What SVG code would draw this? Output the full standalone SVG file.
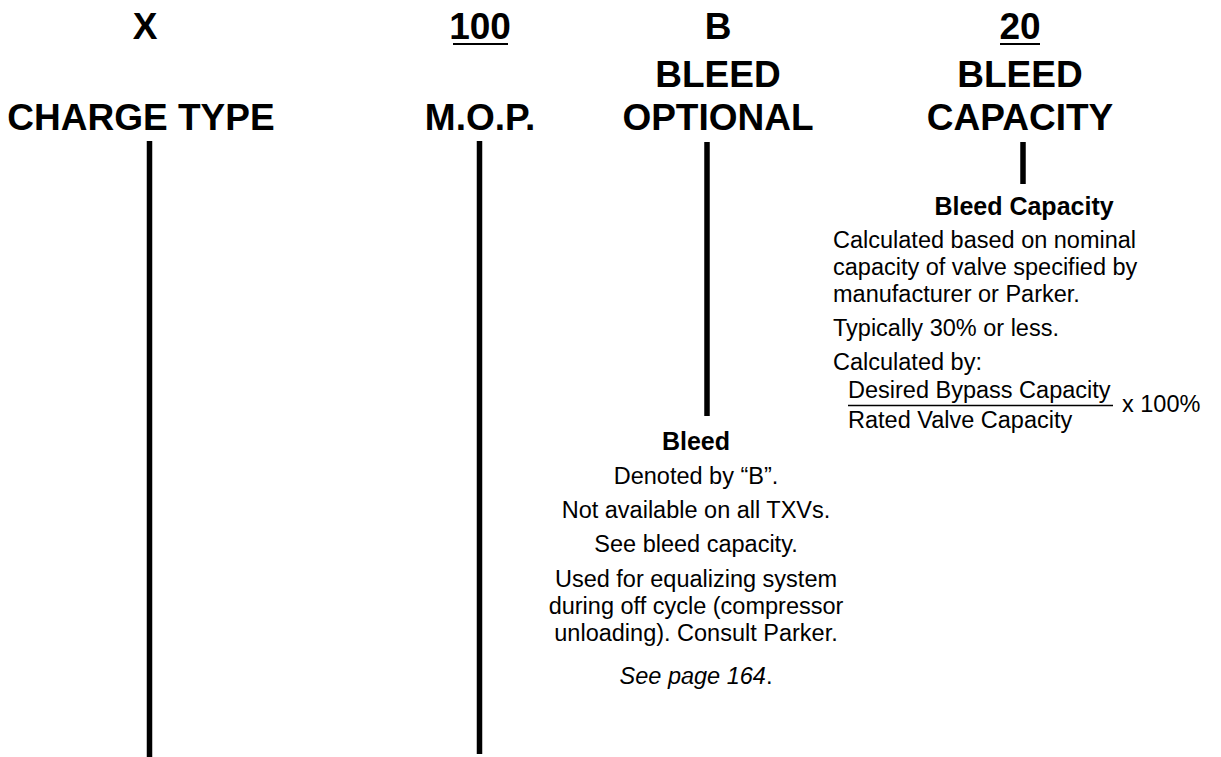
<svg xmlns="http://www.w3.org/2000/svg" width="1221" height="757" viewBox="0 0 1221 757">
<style>
.h{font-family:"Liberation Sans",Arial,sans-serif;font-weight:bold;font-size:37px;fill:#000;text-anchor:middle}
.b{font-family:"Liberation Sans",Arial,sans-serif;font-size:23.5px;fill:#000}
.bh{font-family:"Liberation Sans",Arial,sans-serif;font-weight:bold;font-size:25px;fill:#000;text-anchor:middle}
.c{text-anchor:middle}
.ln{stroke:#000;stroke-width:5.5;fill:none}
.ul{stroke:#000;stroke-width:2;fill:none}
</style>
<rect width="1221" height="757" fill="#fff"/>
<g id="connectors">
<line class="ln" x1="149.5" y1="141" x2="149.5" y2="757"/>
<line class="ln" x1="479.5" y1="141" x2="479.5" y2="754"/>
<line class="ln" x1="707" y1="142" x2="707" y2="416"/>
<line class="ln" x1="1023" y1="142" x2="1023" y2="184"/>
</g>
<g id="charge-type">
<text class="h" x="145" y="39">X</text>
<text class="h" x="141" y="130">CHARGE TYPE</text>
</g>
<g id="mop">
<text class="h" x="480" y="39">100</text>
<line class="ul" x1="453" y1="44" x2="508" y2="44"/>
<text class="h" x="480" y="130">M.O.P.</text>
</g>
<g id="bleed-optional">
<text class="h" x="718" y="39">B</text>
<text class="h" x="718" y="87">BLEED</text>
<text class="h" x="718" y="130">OPTIONAL</text>
</g>
<g id="bleed-capacity">
<text class="h" x="1020" y="39">20</text>
<line class="ul" x1="1000" y1="44" x2="1040" y2="44"/>
<text class="h" x="1020" y="87">BLEED</text>
<text class="h" x="1020" y="130">CAPACITY</text>
</g>
<g id="bleed-note">
<text class="bh" x="696" y="450">Bleed</text>
<text class="b c" x="696" y="484">Denoted by “B”.</text>
<text class="b c" x="696" y="518">Not available on all TXVs.</text>
<text class="b c" x="696" y="552">See bleed capacity.</text>
<text class="b c" x="696" y="587">Used for equalizing system</text>
<text class="b c" x="696" y="614">during off cycle (compressor</text>
<text class="b c" x="696" y="641">unloading). Consult Parker.</text>
<text class="b c" x="696" y="684"><tspan font-style="italic">See page 164</tspan>.</text>
</g>
<g id="bleed-capacity-note">
<text class="bh" x="1024" y="215">Bleed Capacity</text>
<text class="b" x="833" y="248">Calculated based on nominal</text>
<text class="b" x="833" y="275">capacity of valve specified by</text>
<text class="b" x="833" y="302">manufacturer or Parker.</text>
<text class="b" x="833" y="336">Typically 30% or less.</text>
<text class="b" x="833" y="370">Calculated by:</text>
<text class="b" x="848" y="398">Desired Bypass Capacity</text>
<line x1="848" y1="405.5" x2="1113" y2="405.5" stroke="#000" stroke-width="1.5"/>
<text class="b" x="848" y="428">Rated Valve Capacity</text>
<text class="b" x="1122" y="412">x 100%</text>
</g>
</svg>
